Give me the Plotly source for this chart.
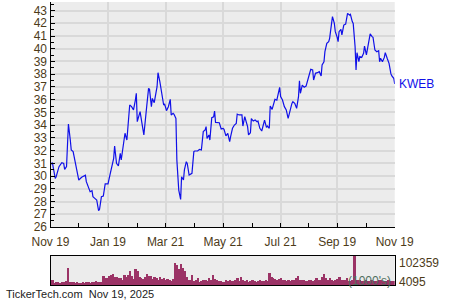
import plotly.graph_objects as go
import pandas as pd

start = pd.Timestamp("2024-11-19")

price_days = [0, 2, 5, 6, 9, 12, 14, 15, 17, 19, 21, 22, 24, 26, 28, 30, 33, 37, 38, 40,
              42, 44, 45, 47, 49, 51, 52, 54, 56, 58, 60, 61, 63, 65, 67, 68, 70, 72, 74, 75,
              77, 79, 81, 82, 84, 86, 88, 90, 91, 92, 95, 97, 99, 102, 104, 105, 107, 108, 110, 113,
              114, 116, 118, 120, 121, 123, 125, 127, 128, 130, 131, 133, 134, 136, 138, 139, 141, 142, 144, 145,
              147, 149, 150, 152, 153, 156, 158, 160, 162, 164, 165, 166, 168, 169, 171, 173, 174, 175, 177, 179,
              181, 183, 184, 186, 188, 190, 191, 193, 195, 197, 198, 200, 203, 204, 206, 207, 209, 210, 212, 213,
              215, 217, 219, 220, 222, 224, 226, 227, 229, 230, 232, 233, 235, 237, 238, 240, 242, 243, 244, 246,
              248, 250, 252, 254, 256, 257, 259, 261, 263, 264, 265, 267, 269, 271, 272, 274, 276, 278, 279, 281,
              283, 285, 287, 288, 290, 291, 293, 295, 296, 297, 299, 301, 302, 304, 305, 306, 308, 309, 311, 313,
              314, 315, 317, 318, 320, 321, 323, 324, 325, 327, 328, 330, 332, 333, 335, 337, 339, 341, 342, 344,
              346, 348, 349, 350, 352, 354, 355, 357, 359, 361, 362, 364, 365]

prices = [30.9, 31.05, 29.82, 29.95, 30.74, 31.05, 31.0, 30.53, 30.74, 34.09, 32.83, 32.05, 31.92, 31.26, 30.48, 29.69, 29.9, 30.06, 29.56, 29.17,
          28.77, 28.85, 28.38, 28.25, 28.12, 27.28, 27.39, 28.38, 28.43, 29.38, 29.38, 29.38, 30.08, 30.79, 31.39, 32.36, 31.0, 30.79, 31.79, 31.26,
          32.26, 33.36, 32.83, 33.88, 35.58, 35.45, 35.19, 35.97, 36.5, 34.27, 35.06, 34.14, 33.23, 35.45, 36.89, 36.81, 35.45, 36.1, 35.76, 37.02,
          38.12, 37.4, 36.5, 35.58, 35.66, 35.14, 35.45, 36.03, 34.8, 34.93, 34.85, 34.53, 31.26, 28.9, 28.17, 29.95, 29.69, 30.48, 31.13, 31.0,
          30.08, 30.16, 30.21, 31.92, 31.97, 31.97, 32.1, 32.05, 33.49, 33.62, 33.88, 32.96, 33.23, 32.83, 34.59, 34.66, 35.11, 34.22, 34.22, 34.19,
          33.7, 33.75, 33.67, 33.15, 33.36, 32.7, 33.09, 33.75, 34.01, 34.14, 34.87, 34.8, 34.8, 33.93, 34.66, 34.4, 33.88, 33.23, 33.41, 34.51,
          34.32, 34.4, 34.27, 34.32, 33.75, 33.54, 34.01, 34.4, 33.83, 33.93, 33.75, 35.5, 35.24, 35.71, 36.03, 35.97, 36.55, 36.97, 36.24, 35.97,
          35.45, 35.19, 34.53, 35.19, 35.71, 35.84, 35.71, 35.32, 36.24, 37.49, 36.5, 37.15, 36.97, 37.07, 37.28, 37.86, 38.38, 38.33, 37.54, 38.07,
          38.12, 38.2, 37.86, 38.72, 38.98, 39.77, 40.42, 40.55, 40.82, 41.47, 42.52, 41.99, 41.34, 40.9, 40.55, 41.34, 41.52, 41.08, 41.86, 41.94,
          42.39, 42.78, 42.65, 42.7, 42.13, 41.99, 40.16, 38.33, 39.69, 38.98, 39.38, 39.32, 39.64, 40.21, 39.51, 40.42, 41.16, 40.95, 40.9, 39.9,
          39.77, 39.85, 38.98, 39.25, 38.98, 39.32, 39.69, 39.25, 38.85, 38.02, 37.86, 37.68, 37.23]

vol_days = [0, 2, 4, 6, 8, 10, 12, 14, 16, 18, 20, 22, 24, 26, 28, 30, 32, 34, 36, 38,
            40, 42, 44, 46, 48, 50, 52, 54, 56, 58, 60, 62, 64, 66, 68, 70, 72, 74, 76, 78,
            80, 82, 84, 86, 88, 90, 92, 94, 96, 98, 100, 102, 104, 106, 108, 110, 112, 114, 116, 118,
            120, 122, 124, 126, 128, 130, 132, 134, 136, 138, 140, 142, 144, 146, 148, 150, 152, 154, 156, 158,
            160, 162, 164, 166, 168, 170, 172, 174, 176, 178, 180, 182, 184, 186, 188, 190, 192, 194, 196, 198,
            200, 202, 204, 206, 208, 210, 212, 214, 216, 218, 220, 222, 224, 226, 228, 230, 232, 234, 236, 238,
            240, 242, 244, 246, 248, 250, 252, 254, 256, 258, 260, 262, 264, 266, 268, 270, 272, 274, 276, 278,
            280, 282, 284, 286, 288, 290, 292, 294, 296, 298, 300, 302, 304, 306, 308, 310, 312, 314, 316, 318,
            320, 322, 324, 326, 328, 330, 332, 334, 336, 338, 340, 342, 344, 346, 348, 350, 352, 354, 356, 358,
            360, 362, 364]

volumes_k = [10, 17, 8, 9, 12, 8, 10, 9, 13, 60,
             10, 12, 9, 8, 11, 7, 6, 9, 8, 12, 10, 8, 11, 9, 13, 10, 12, 9,
             31, 23, 23, 33, 37, 38, 28, 30, 24, 26, 17, 35, 30, 34, 50, 32, 22, 56, 48, 30,
             24, 22, 29, 39, 31, 33, 22, 27, 25, 16, 29, 22, 26, 19, 22, 16, 14, 22,
             76, 72, 55, 75, 60, 50, 30, 17, 19, 35,
             14, 19, 25, 11, 14, 19, 17, 14, 23, 19, 35, 22, 17, 14, 14, 12, 11, 17, 14, 19,
             14, 14, 17, 23, 14, 27, 17, 14, 19, 12, 14, 17, 14, 12, 14, 19, 15, 14, 17, 15,
             44, 27, 23, 20, 19, 22, 23, 19, 17, 15, 17, 14, 19, 17, 23, 31, 19, 17, 17, 14,
             15, 19, 17, 14, 17, 23, 19, 17, 27, 38, 23, 19, 23, 17, 14, 19, 20, 29, 19, 17,
             17, 23, 14, 14, 19, 102.4, 19, 17, 17, 14, 14, 17, 14, 14, 17, 15, 14, 14, 19, 17,
             15, 14, 14, 17, 15, 14, 14]

major_ticks = ["2024-11-19", "2025-01-19", "2025-03-21", "2025-05-21", "2025-07-21", "2025-09-19", "2025-11-19"]
major_labels = ["Nov 19", "Jan 19", "Mar 21", "May 21", "Jul 21", "Sep 19", "Nov 19"]
minor_ticks = ["2024-12-19", "2025-02-19", "2025-04-21", "2025-06-21", "2025-08-20", "2025-10-20"]

symbol = "KWEB"
vol_max_label = "102359"
vol_min_label = "4095"
footer = "TickerTech.com  Nov 19, 2025"

price_dates = start + pd.to_timedelta(price_days, unit="D")
vol_dates = start + pd.to_timedelta(vol_days, unit="D")

FONT = "Liberation Sans, Arial, sans-serif"
TXT = "#4d3b19"
BG = "#ececec"
GRID = "#d9d9d9"
x0, x1 = 50.5 / 450, 394.7 / 450

fig = go.Figure()
fig.add_trace(go.Scatter(x=price_dates, y=prices, mode="lines",
                         line=dict(color="#1010e8", width=1.2), xaxis="x", yaxis="y",
                         hoverinfo="skip"))
fig.add_trace(go.Bar(x=vol_dates, y=volumes_k, marker=dict(color="#9b3366", line=dict(width=0)),
                     width=2 * 86400000, xaxis="x2", yaxis="y2", hoverinfo="skip"))

xr = ["2024-11-19", "2025-11-19"]
fig.update_layout(
    width=450, height=300, margin=dict(l=0, r=0, t=0, b=0, autoexpand=False),
    paper_bgcolor="white", plot_bgcolor=BG, showlegend=False, bargap=0,
    font=dict(family=FONT, size=12, color=TXT),
    xaxis=dict(domain=[x0, x1], range=xr, type="date", tickmode="array",
               tickvals=major_ticks, ticktext=major_labels, automargin=False,
               showgrid=True, gridcolor=GRID, gridwidth=1.5,
               showline=True, linecolor="black", linewidth=1.2,
               ticks="inside", ticklen=4, tickcolor="black", ticklabelstandoff=3,
               minor=dict(tickmode="array", tickvals=minor_ticks, ticks="inside",
                          ticklen=4, tickcolor="black", showgrid=False),
               tickfont=dict(size=12, color=TXT), anchor="y", zeroline=False),
    yaxis=dict(domain=[1 - 227 / 300, 1 - 2 / 300], range=[26, 43.67],
               tickmode="linear", tick0=26, dtick=1, automargin=False,
               showgrid=True, gridcolor=GRID, gridwidth=1.5,
               showline=True, linecolor="black", linewidth=1.2,
               ticks="inside", ticklen=4, tickcolor="black",
               minor=dict(dtick=0.5, ticks="inside", ticklen=3, tickcolor="black", showgrid=False),
               tickfont=dict(size=12, color=TXT), anchor="x", zeroline=False),
    xaxis2=dict(domain=[x0, x1], range=xr, type="date", showticklabels=False, automargin=False,
                showgrid=False, showline=True, linecolor="black", linewidth=1.2, mirror=True,
                ticks="", anchor="y2", zeroline=False),
    yaxis2=dict(domain=[1 - 285 / 300, 1 - 256 / 300], range=[0, 102.4], automargin=False,
                showticklabels=False, showgrid=False, showline=True, linecolor="black",
                linewidth=1.2, mirror=True, ticks="", anchor="x2", zeroline=False),
)

fig.add_annotation(x=price_dates[-1], y=prices[-1], xref="x", yref="y", text=symbol,
                   showarrow=False, xanchor="left", yanchor="middle", xshift=2,
                   font=dict(size=12, color="#1010e8"))
fig.add_annotation(x=397 / 450, y=1 - 263 / 300, xref="paper", yref="paper", text=vol_max_label,
                   showarrow=False, xanchor="left", yanchor="middle", font=dict(size=12, color=TXT))
fig.add_annotation(x=397 / 450, y=1 - 282 / 300, xref="paper", yref="paper", text=vol_min_label,
                   showarrow=False, xanchor="left", yanchor="middle", font=dict(size=12, color=TXT))
fig.add_annotation(x=393 / 450, y=1 - 281 / 300, xref="paper", yref="paper", text="(1000's)",
                   showarrow=False, xanchor="right", yanchor="middle", font=dict(size=12, color="#4f6e5e"))
fig.add_annotation(x=4 / 450, y=1 - 294 / 300, xref="paper", yref="paper", text=footer,
                   showarrow=False, xanchor="left", yanchor="middle", font=dict(size=11, color="#222222"))

fig.write_html("out.html")
